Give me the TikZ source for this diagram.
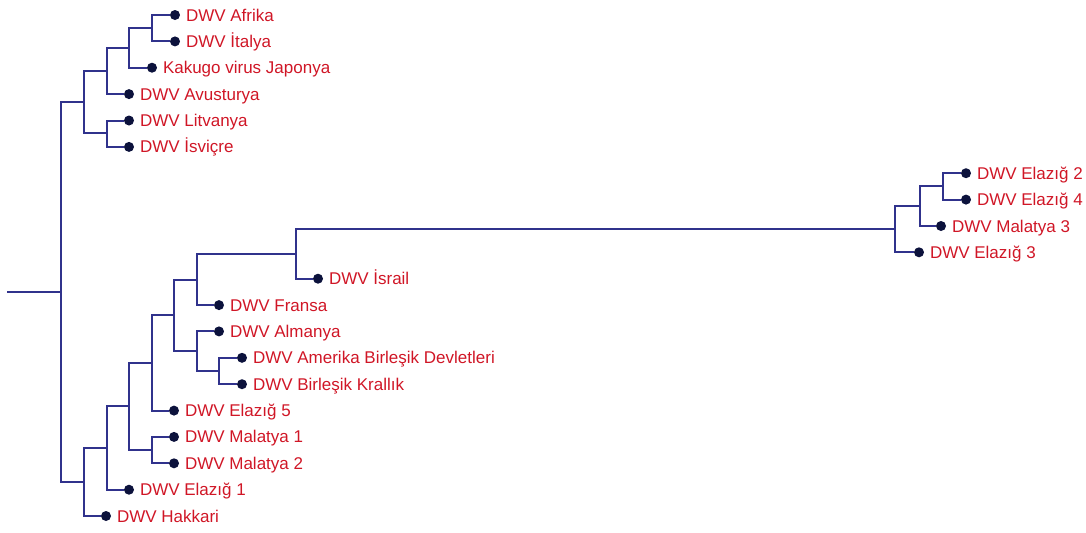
\documentclass[tikz,border=0pt]{standalone}
\usepackage{fontspec}
\setmainfont{Liberation Sans}
\usetikzlibrary{positioning}

\definecolor{branchblue}{RGB}{48,50,140}
\definecolor{tipdark}{RGB}{12,18,60}
\definecolor{labelred}{RGB}{208,22,38}

\begin{document}
\begin{tikzpicture}[
    x=0.5pt, y=-0.5pt,
    node distance=2.6pt,
    branch/.style={draw=branchblue, line width=1pt},
    tip/.style={circle, fill=tipdark, inner sep=0pt, minimum size=5pt},
    taxon/.style={inner sep=0pt, text height=0.6em, text depth=0pt, text=labelred, font=\fontsize{8.5}{10}\selectfont},
]
    \useasboundingbox (0,0) rectangle (1086,532);

    % internal nodes
    \coordinate (stem) at (7,292);
    \coordinate (root) at (61,292);
    \coordinate (cladeA) at (84,102);
    \coordinate (cladeA1) at (107,71);
    \coordinate (cladeA11) at (129,48);
    \coordinate (cladeA111) at (152,28);
    \coordinate (cladeA2) at (107,133);
    \coordinate (cladeB) at (84,482);
    \coordinate (cladeB1) at (107,448);
    \coordinate (cladeB11) at (129,406);
    \coordinate (malatya) at (152,450);
    \coordinate (cladeE5) at (152,363);
    \coordinate (cladeG) at (174,315);
    \coordinate (cladeAl) at (197,351);
    \coordinate (cladeUK) at (219,371);
    \coordinate (cladeF) at (197,280);
    \coordinate (cladeIs) at (296,254);
    \coordinate (cladeR) at (895,229);
    \coordinate (cladeR1) at (920,206);
    \coordinate (cladeR11) at (943,186);

    % tips
    \node[tip] (afrika) at (175,15) {};
    \node[tip] (italya) at (175,41.4) {};
    \node[tip] (kakugo) at (152,67.7) {};
    \node[tip] (avusturya) at (129,94.1) {};
    \node[tip] (litvanya) at (129,120.5) {};
    \node[tip] (isvicre) at (129,146.9) {};
    \node[tip] (elazig2) at (966,173.2) {};
    \node[tip] (elazig4) at (966,199.6) {};
    \node[tip] (malatya3) at (941,226) {};
    \node[tip] (elazig3) at (919,252.3) {};
    \node[tip] (israil) at (318,278.7) {};
    \node[tip] (fransa) at (219,305.1) {};
    \node[tip] (almanya) at (219,331.4) {};
    \node[tip] (abd) at (242,357.8) {};
    \node[tip] (krallik) at (242,384.2) {};
    \node[tip] (elazig5) at (174,410.6) {};
    \node[tip] (malatya1) at (174,436.9) {};
    \node[tip] (malatya2) at (174,463.3) {};
    \node[tip] (elazig1) at (129,489.7) {};
    \node[tip] (hakkari) at (106,516) {};

    % labels
    \node[taxon, right=of afrika] (afrika-l) {DWV Afrika};
    \node[taxon, right=of italya] (italya-l) {DWV İtalya};
    \node[taxon, right=of kakugo] (kakugo-l) {Kakugo virus Japonya};
    \node[taxon, right=of avusturya] (avusturya-l) {DWV Avusturya};
    \node[taxon, right=of litvanya] (litvanya-l) {DWV Litvanya};
    \node[taxon, right=of isvicre] (isvicre-l) {DWV İsviçre};
    \node[taxon, right=of elazig2] (elazig2-l) {DWV Elazığ 2};
    \node[taxon, right=of elazig4] (elazig4-l) {DWV Elazığ 4};
    \node[taxon, right=of malatya3] (malatya3-l) {DWV Malatya 3};
    \node[taxon, right=of elazig3] (elazig3-l) {DWV Elazığ 3};
    \node[taxon, right=of israil] (israil-l) {DWV İsrail};
    \node[taxon, right=of fransa] (fransa-l) {DWV Fransa};
    \node[taxon, right=of almanya] (almanya-l) {DWV Almanya};
    \node[taxon, right=of abd] (abd-l) {DWV Amerika Birleşik Devletleri};
    \node[taxon, right=of krallik] (krallik-l) {DWV Birleşik Krallık};
    \node[taxon, right=of elazig5] (elazig5-l) {DWV Elazığ 5};
    \node[taxon, right=of malatya1] (malatya1-l) {DWV Malatya 1};
    \node[taxon, right=of malatya2] (malatya2-l) {DWV Malatya 2};
    \node[taxon, right=of elazig1] (elazig1-l) {DWV Elazığ 1};
    \node[taxon, right=of hakkari] (hakkari-l) {DWV Hakkari};

    % branches
    \draw[branch] (stem) -- (root);
    \draw[branch] (root) |- (cladeA);
    \draw[branch] (root) |- (cladeB);
    \draw[branch] (cladeA) |- (cladeA1);
    \draw[branch] (cladeA) |- (cladeA2);
    \draw[branch] (cladeA1) |- (cladeA11);
    \draw[branch] (cladeA1) |- (avusturya);
    \draw[branch] (cladeA11) |- (cladeA111);
    \draw[branch] (cladeA11) |- (kakugo);
    \draw[branch] (cladeA111) |- (afrika);
    \draw[branch] (cladeA111) |- (italya);
    \draw[branch] (cladeA2) |- (litvanya);
    \draw[branch] (cladeA2) |- (isvicre);
    \draw[branch] (cladeB) |- (cladeB1);
    \draw[branch] (cladeB) |- (hakkari);
    \draw[branch] (cladeB1) |- (cladeB11);
    \draw[branch] (cladeB1) |- (elazig1);
    \draw[branch] (cladeB11) |- (cladeE5);
    \draw[branch] (cladeB11) |- (malatya);
    \draw[branch] (malatya) |- (malatya1);
    \draw[branch] (malatya) |- (malatya2);
    \draw[branch] (cladeE5) |- (cladeG);
    \draw[branch] (cladeE5) |- (elazig5);
    \draw[branch] (cladeG) |- (cladeF);
    \draw[branch] (cladeG) |- (cladeAl);
    \draw[branch] (cladeAl) |- (almanya);
    \draw[branch] (cladeAl) |- (cladeUK);
    \draw[branch] (cladeUK) |- (abd);
    \draw[branch] (cladeUK) |- (krallik);
    \draw[branch] (cladeF) |- (cladeIs);
    \draw[branch] (cladeF) |- (fransa);
    \draw[branch] (cladeIs) |- (cladeR);
    \draw[branch] (cladeIs) |- (israil);
    \draw[branch] (cladeR) |- (cladeR1);
    \draw[branch] (cladeR) |- (elazig3);
    \draw[branch] (cladeR1) |- (cladeR11);
    \draw[branch] (cladeR1) |- (malatya3);
    \draw[branch] (cladeR11) |- (elazig2);
    \draw[branch] (cladeR11) |- (elazig4);
\end{tikzpicture}
\end{document}
